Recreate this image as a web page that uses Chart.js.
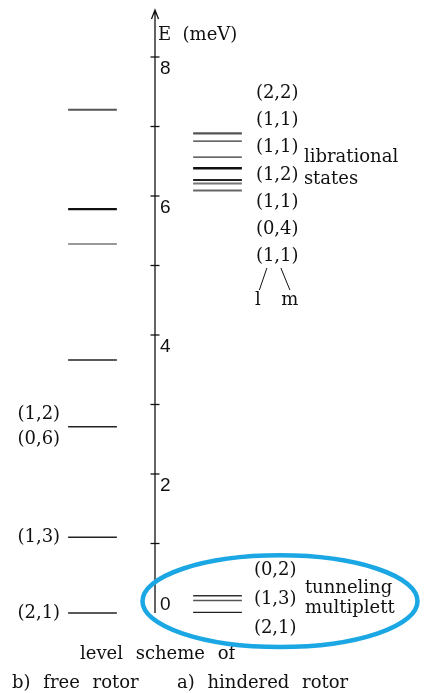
<!DOCTYPE html>
<html>
<head>
<meta charset="utf-8">
<script src="https://cdn.jsdelivr.net/npm/chart.js@4.4.1/dist/chart.umd.min.js"></script>
<style>
  html, body { margin: 0; padding: 0; background: #fff; }
  canvas { display: block; }
</style>
</head>
<body>
<canvas id="levelChart" width="429" height="693"></canvas>
<script>
// energy levels in meV
const freeRotorLevels = [7.24, 5.81, 5.31, 3.64, 2.68, 1.09, 0.0];
const freeRotorColors = ['#555', '#111', '#999', '#222', '#222', '#222', '#222'];
const freeRotorWidths = [2, 2.2, 2, 1.5, 1.5, 1.5, 1.5];

const libLevels = [6.90, 6.79, 6.56, 6.40, 6.23, 6.18, 6.08];
const libColors = ['#555', '#333', '#333', '#111', '#222', '#777', '#666'];
const libWidths = [2.2, 1.4, 1.3, 2.5, 2, 2, 2];

const tunnelLevels = [0.25, 0.18, 0.01];
const tunnelColors = ['#333', '#555', '#222'];
const tunnelWidths = [1.5, 1.5, 1.2];

const libLabels = ['(2,2)', '(1,1)', '(1,1)', '(1,2)', '(1,1)', '(0,4)', '(1,1)'];
const tunnelLabels = ['(0,2)', '(1,3)', '(2,1)'];
const freeLabels = [['(1,2)', 2.68, -12], ['(0,6)', 2.68, 13], ['(1,3)', 1.09, 0], ['(2,1)', 0.0, 0]];
const tickValues = [0, 1, 2, 3, 4, 5, 6, 7, 8];
const tickLabels = ['0', '', '2', '', '4', '', '6', '', '8'];

// column positions on the x scale
const FREE_COL = 0, AXIS_COL = 1, HIND_COL = 2;
const HALF = 0.39;

function levelDatasets(levels, col, colors, widths) {
    return levels.map((e, i) => ({
        data: [{ x: col - HALF, y: e }, { x: col + HALF, y: e }],
        borderColor: colors[i],
        borderWidth: widths[i],
        borderCapStyle: 'butt',
        pointRadius: 0,
        showLine: true,
        fill: false,
        clip: false
    }));
}

const datasets = [
    ...levelDatasets(freeRotorLevels, FREE_COL, freeRotorColors, freeRotorWidths),
    ...levelDatasets(libLevels, HIND_COL, libColors, libWidths),
    ...levelDatasets(tunnelLevels, HIND_COL, tunnelColors, tunnelWidths)
];

const SERIF = '18px "DejaVu Serif", serif';

// axis, tick labels, texts and the highlight ellipse
const annotations = {
    id: 'annotations',
    afterDraw(chart) {
        const ctx = chart.ctx;
        const xs = chart.scales.x, ys = chart.scales.y;
        const ax = xs.getPixelForValue(AXIS_COL);
        const y0 = ys.getPixelForValue(0);
        const top = 10;

        ctx.save();
        ctx.strokeStyle = '#111';
        ctx.lineWidth = 1.3;
        ctx.beginPath();
        ctx.moveTo(ax, y0);
        ctx.lineTo(ax, top);
        ctx.moveTo(ax - 3.5, top + 9);
        ctx.lineTo(ax, top);
        ctx.lineTo(ax + 3.5, top + 9);
        ctx.stroke();

        ctx.font = '19px "Liberation Sans", sans-serif';
        ctx.fillStyle = '#111';
        ctx.textAlign = 'left';
        ctx.textBaseline = 'alphabetic';
        tickValues.forEach((v, i) => {
            const py = ys.getPixelForValue(v);
            if (v > 0) {
                ctx.beginPath();
                ctx.moveTo(ax - 4.5, py);
                ctx.lineTo(ax + 4.5, py);
                ctx.stroke();
            }
            if (tickLabels[i]) {
                ctx.fillText(tickLabels[i], ax + 5, v === 0 ? py - 3 : py + 17);
            }
        });

        ctx.font = SERIF;
        ctx.fillText('E  (meV)', ax + 3, 40);

        // hindered rotor labels
        const hx = xs.getPixelForValue(HIND_COL + HALF) + 14;
        ctx.textBaseline = 'middle';
        libLabels.forEach((t, i) => ctx.fillText(t, hx, 93 + i * 27.3));
        ctx.fillText('librational', hx + 48, 157);
        ctx.fillText('states', hx + 48, 179);

        ctx.lineWidth = 1;
        ctx.beginPath();
        ctx.moveTo(hx + 11, 268); ctx.lineTo(hx + 3.5, 290);
        ctx.moveTo(hx + 25, 268); ctx.lineTo(hx + 34, 290);
        ctx.stroke();
        ctx.textAlign = 'center';
        ctx.fillText('l', hx + 2, 300);
        ctx.fillText('m', hx + 34, 300);
        ctx.textAlign = 'left';

        tunnelLabels.forEach((t, i) => ctx.fillText(t, hx - 2, 570 + i * 29));
        ctx.fillText('tunneling', hx + 49, 588);
        ctx.fillText('multiplett', hx + 49, 608);

        // free rotor labels
        const fx = xs.getPixelForValue(FREE_COL - HALF) - 8;
        ctx.textAlign = 'right';
        freeLabels.forEach(([t, e, dy]) => ctx.fillText(t, fx, ys.getPixelForValue(e) + dy));

        // captions
        ctx.textAlign = 'left';
        ctx.textBaseline = 'alphabetic';
        if ('wordSpacing' in ctx) ctx.wordSpacing = '7px';
        ctx.fillText('level scheme of', 80, 659);
        ctx.fillText('b) free rotor', 12, 688);
        ctx.fillText('a) hindered rotor', 177, 688);

        // highlight ellipse round the tunneling multiplett
        ctx.strokeStyle = '#1ba7e3';
        ctx.lineWidth = 4.5;
        ctx.beginPath();
        const cx = xs.getPixelForValue(3.0), cy = ys.getPixelForValue(0.17);
        const rx = xs.getPixelForValue(5.2) - cx, ry = cy - ys.getPixelForValue(0.83);
        ctx.ellipse(cx, cy, rx, ry, 0, 0, Math.PI * 2);
        ctx.stroke();
        ctx.restore();
    }
};

new Chart(document.getElementById('levelChart').getContext('2d'), {
    type: 'scatter',
    data: { datasets },
    options: {
        responsive: false,
        animation: false,
        devicePixelRatio: 1,
        layout: { padding: { left: 0, right: 0, top: 57, bottom: 80 } },
        plugins: { legend: { display: false }, tooltip: { enabled: false } },
        scales: {
            x: { type: 'linear', display: false, min: -1.48, max: 5.384 },
            y: { type: 'linear', display: false, min: 0, max: 8 }
        }
    },
    plugins: [annotations]
});
</script>
</body>
</html>
